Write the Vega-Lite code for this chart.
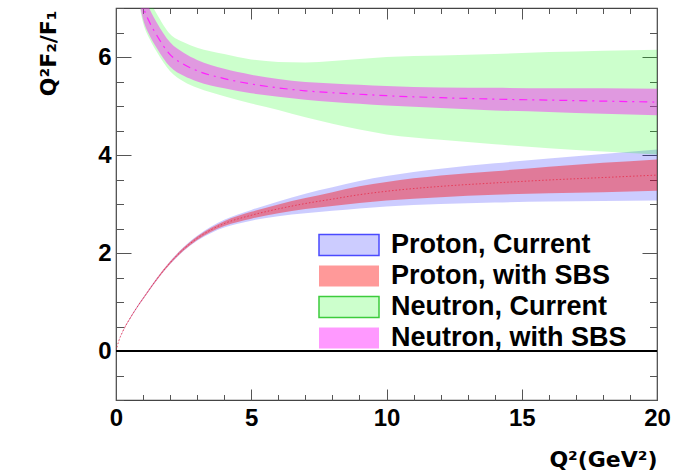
{
  "$schema": "https://vega.github.io/schema/vega-lite/v6.json",
  "autosize": {"type": "none"},
  "padding": {"left": 116, "top": 8, "right": 27, "bottom": 72},
  "width": 541,
  "height": 392,
  "background": "white",
  "config": {
    "view": {"stroke": "#444", "strokeWidth": 1.2},
    "axis": {"domain": false, "grid": false, "labelFont": "Liberation Sans", "labelFontWeight": "bold", "labelFontSize": 24, "labelColor": "black", "tickColor": "#555", "tickWidth": 1, "titleFont": "DejaVu Sans", "titleFontWeight": "bold", "titleFontSize": 22, "titleColor": "black", "labelOverlap": false, "labelBound": false, "labelFlush": false},
    "legend": {"labelFont": "Liberation Sans", "labelFontWeight": "bold", "labelFontSize": 27, "labelColor": "black"}
  },
  "data": {"values": [
    {"s":"Proton, Current","x":0,"lo":0,"hi":0,"c":0},
    {"s":"Proton, Current","x":0.1,"lo":0.195,"hi":0.205,"c":0.2},
    {"s":"Proton, Current","x":0.25,"lo":0.39,"hi":0.41,"c":0.4},
    {"s":"Proton, Current","x":0.5,"lo":0.635,"hi":0.665,"c":0.65},
    {"s":"Proton, Current","x":0.75,"lo":0.852,"hi":0.888,"c":0.87},
    {"s":"Proton, Current","x":1,"lo":1.05,"hi":1.09,"c":1.07},
    {"s":"Proton, Current","x":1.5,"lo":1.435,"hi":1.485,"c":1.46},
    {"s":"Proton, Current","x":2,"lo":1.77,"hi":1.83,"c":1.8},
    {"s":"Proton, Current","x":2.5,"lo":2.04,"hi":2.12,"c":2.08},
    {"s":"Proton, Current","x":3,"lo":2.25,"hi":2.35,"c":2.3},
    {"s":"Proton, Current","x":3.5,"lo":2.405,"hi":2.535,"c":2.47},
    {"s":"Proton, Current","x":4,"lo":2.52,"hi":2.68,"c":2.6},
    {"s":"Proton, Current","x":5,"lo":2.66,"hi":2.88,"c":2.77},
    {"s":"Proton, Current","x":6,"lo":2.75,"hi":3.05,"c":2.9},
    {"s":"Proton, Current","x":7,"lo":2.81,"hi":3.21,"c":3.01},
    {"s":"Proton, Current","x":8,"lo":2.86,"hi":3.34,"c":3.1},
    {"s":"Proton, Current","x":9,"lo":2.91,"hi":3.47,"c":3.19},
    {"s":"Proton, Current","x":10,"lo":2.95,"hi":3.57,"c":3.26},
    {"s":"Proton, Current","x":12,"lo":3.0,"hi":3.72,"c":3.36},
    {"s":"Proton, Current","x":14,"lo":3.03,"hi":3.83,"c":3.43},
    {"s":"Proton, Current","x":16,"lo":3.05,"hi":3.93,"c":3.49},
    {"s":"Proton, Current","x":18,"lo":3.06,"hi":4.02,"c":3.54},
    {"s":"Proton, Current","x":20,"lo":3.07,"hi":4.11,"c":3.59},
    {"s":"Proton, with SBS","x":0,"lo":0,"hi":0,"c":0},
    {"s":"Proton, with SBS","x":0.1,"lo":0.196,"hi":0.204,"c":0.2},
    {"s":"Proton, with SBS","x":0.25,"lo":0.392,"hi":0.408,"c":0.4},
    {"s":"Proton, with SBS","x":0.5,"lo":0.638,"hi":0.662,"c":0.65},
    {"s":"Proton, with SBS","x":0.75,"lo":0.856,"hi":0.884,"c":0.87},
    {"s":"Proton, with SBS","x":1,"lo":1.055,"hi":1.085,"c":1.07},
    {"s":"Proton, with SBS","x":1.5,"lo":1.44,"hi":1.48,"c":1.46},
    {"s":"Proton, with SBS","x":2,"lo":1.775,"hi":1.825,"c":1.8},
    {"s":"Proton, with SBS","x":2.5,"lo":2.05,"hi":2.11,"c":2.08},
    {"s":"Proton, with SBS","x":3,"lo":2.265,"hi":2.335,"c":2.3},
    {"s":"Proton, with SBS","x":3.5,"lo":2.43,"hi":2.51,"c":2.47},
    {"s":"Proton, with SBS","x":4,"lo":2.55,"hi":2.65,"c":2.6},
    {"s":"Proton, with SBS","x":5,"lo":2.7,"hi":2.84,"c":2.77},
    {"s":"Proton, with SBS","x":6,"lo":2.81,"hi":2.99,"c":2.9},
    {"s":"Proton, with SBS","x":7,"lo":2.9,"hi":3.12,"c":3.01},
    {"s":"Proton, with SBS","x":8,"lo":2.96,"hi":3.24,"c":3.1},
    {"s":"Proton, with SBS","x":9,"lo":3.02,"hi":3.36,"c":3.19},
    {"s":"Proton, with SBS","x":10,"lo":3.07,"hi":3.45,"c":3.26},
    {"s":"Proton, with SBS","x":12,"lo":3.14,"hi":3.58,"c":3.36},
    {"s":"Proton, with SBS","x":14,"lo":3.19,"hi":3.67,"c":3.43},
    {"s":"Proton, with SBS","x":16,"lo":3.22,"hi":3.76,"c":3.49},
    {"s":"Proton, with SBS","x":18,"lo":3.24,"hi":3.84,"c":3.54},
    {"s":"Proton, with SBS","x":20,"lo":3.27,"hi":3.91,"c":3.59},
    {"s":"Neutron, Current","x":0.8,"lo":7.25,"hi":8.05,"c":7.65},
    {"s":"Neutron, Current","x":1,"lo":6.7,"hi":7.5,"c":7.1},
    {"s":"Neutron, Current","x":1.25,"lo":6.36,"hi":7.14,"c":6.75},
    {"s":"Neutron, Current","x":1.5,"lo":6.11,"hi":6.89,"c":6.5},
    {"s":"Neutron, Current","x":2,"lo":5.71,"hi":6.47,"c":6.09},
    {"s":"Neutron, Current","x":2.5,"lo":5.5,"hi":6.3,"c":5.9},
    {"s":"Neutron, Current","x":3,"lo":5.37,"hi":6.19,"c":5.78},
    {"s":"Neutron, Current","x":4,"lo":5.2,"hi":6.06,"c":5.63},
    {"s":"Neutron, Current","x":5,"lo":5.05,"hi":5.95,"c":5.5},
    {"s":"Neutron, Current","x":6,"lo":4.92,"hi":5.9,"c":5.41},
    {"s":"Neutron, Current","x":7,"lo":4.77,"hi":5.89,"c":5.33},
    {"s":"Neutron, Current","x":8,"lo":4.64,"hi":5.92,"c":5.28},
    {"s":"Neutron, Current","x":9,"lo":4.52,"hi":5.96,"c":5.24},
    {"s":"Neutron, Current","x":10,"lo":4.42,"hi":6.0,"c":5.21},
    {"s":"Neutron, Current","x":12,"lo":4.31,"hi":6.03,"c":5.17},
    {"s":"Neutron, Current","x":14,"lo":4.22,"hi":6.06,"c":5.14},
    {"s":"Neutron, Current","x":16,"lo":4.14,"hi":6.1,"c":5.12},
    {"s":"Neutron, Current","x":18,"lo":4.07,"hi":6.13,"c":5.1},
    {"s":"Neutron, Current","x":20,"lo":4.01,"hi":6.15,"c":5.08},
    {"s":"Neutron, with SBS","x":0.8,"lo":7.3,"hi":7.9,"c":7.6},
    {"s":"Neutron, with SBS","x":1,"lo":6.77,"hi":7.33,"c":7.05},
    {"s":"Neutron, with SBS","x":1.25,"lo":6.43,"hi":6.97,"c":6.7},
    {"s":"Neutron, with SBS","x":1.5,"lo":6.19,"hi":6.71,"c":6.45},
    {"s":"Neutron, with SBS","x":2,"lo":5.8,"hi":6.3,"c":6.05},
    {"s":"Neutron, with SBS","x":2.5,"lo":5.615,"hi":6.085,"c":5.85},
    {"s":"Neutron, with SBS","x":3,"lo":5.5,"hi":5.94,"c":5.72},
    {"s":"Neutron, with SBS","x":4,"lo":5.36,"hi":5.76,"c":5.56},
    {"s":"Neutron, with SBS","x":5,"lo":5.26,"hi":5.64,"c":5.45},
    {"s":"Neutron, with SBS","x":6,"lo":5.19,"hi":5.55,"c":5.37},
    {"s":"Neutron, with SBS","x":7,"lo":5.13,"hi":5.49,"c":5.31},
    {"s":"Neutron, with SBS","x":8,"lo":5.08,"hi":5.46,"c":5.27},
    {"s":"Neutron, with SBS","x":9,"lo":5.045,"hi":5.435,"c":5.24},
    {"s":"Neutron, with SBS","x":10,"lo":5.01,"hi":5.41,"c":5.21},
    {"s":"Neutron, with SBS","x":12,"lo":4.96,"hi":5.38,"c":5.17},
    {"s":"Neutron, with SBS","x":14,"lo":4.91,"hi":5.37,"c":5.14},
    {"s":"Neutron, with SBS","x":16,"lo":4.88,"hi":5.36,"c":5.12},
    {"s":"Neutron, with SBS","x":18,"lo":4.84,"hi":5.36,"c":5.1},
    {"s":"Neutron, with SBS","x":20,"lo":4.81,"hi":5.35,"c":5.08}
  ]},
  "resolve": {"axis": {"x": "independent", "y": "independent"}},
  "layer": [
    {
      "transform": [{"filter": "datum.s === 'Proton, Current'"}],
      "mark": {"type": "area", "opacity": 1, "clip": true, "interpolate": "monotone"},
      "encoding": {
        "x": {"field": "x", "type": "quantitative", "scale": {"domain": [0, 20], "nice": false, "zero": false},
          "axis": {"orient": "bottom", "values": [0,1,2,3,4,5,6,7,8,9,10,11,12,13,14,15,16,17,18,19,20],
            "tickSize": {"condition": {"test": "datum.value % 5 === 0", "value": -11}, "value": -5.5},
            "labelExpr": "datum.value % 5 === 0 ? '' + datum.value : ''", "labelPadding": 17,
            "title": "Q²(GeV²)", "titleX": 541, "titleY": 66, "titleAlign": "right", "titleBaseline": "alphabetic", "titleAngle": 0}},
        "y": {"field": "lo", "type": "quantitative", "scale": {"domain": [-1, 7], "nice": false, "zero": false},
          "axis": {"orient": "left", "values": [-1,-0.5,0,0.5,1,1.5,2,2.5,3,3.5,4,4.5,5,5.5,6,6.5,7],
            "tickSize": {"condition": {"test": "datum.value % 2 === 0", "value": -15}, "value": -7.5},
            "labelExpr": "datum.value % 2 === 0 ? '' + datum.value : ''", "labelPadding": 20,
            "title": "Q²F₂/F₁", "titleX": -61, "titleY": 2, "titleAngle": -90, "titleAlign": "right", "titleBaseline": "alphabetic"}},
        "y2": {"field": "hi"},
        "color": {"field": "s", "type": "nominal",
          "scale": {"domain": ["Proton, Current", "Proton, with SBS", "Neutron, Current", "Neutron, with SBS"],
                    "range": ["rgba(0,0,255,0.2)", "rgba(255,0,0,0.4)", "rgba(0,255,0,0.2)", "rgba(255,0,255,0.4)"]},
          "legend": {"title": null, "orient": "none", "legendX": 217, "legendY": 221, "padding": 0,
            "symbolType": "M-2,-0.7H2V0.7H-2Z", "symbolSize": 900, "symbolOpacity": 1,
            "labelOffset": 26, "rowPadding": 1, "labelLimit": 0,
            "encode": {"symbols": {"update": {
              "stroke": {"signal": "datum.value === 'Proton, Current' ? '#4a4aff' : datum.value === 'Neutron, Current' ? '#3ccc3c' : 'transparent'"},
              "strokeWidth": {"value": 1.5}}}}}}
      }
    },
    {
      "transform": [{"filter": "datum.s === 'Proton, with SBS'"}],
      "mark": {"type": "area", "opacity": 1, "clip": true, "interpolate": "monotone"},
      "encoding": {
        "x": {"field": "x", "type": "quantitative", "scale": {"domain": [0, 20], "nice": false, "zero": false}, "axis": null},
        "y": {"field": "lo", "type": "quantitative", "scale": {"domain": [-1, 7], "nice": false, "zero": false}, "axis": null},
        "y2": {"field": "hi"},
        "color": {"field": "s", "type": "nominal"}
      }
    },
    {
      "transform": [{"filter": "datum.s === 'Neutron, Current'"}],
      "mark": {"type": "area", "opacity": 1, "clip": true, "interpolate": "monotone"},
      "encoding": {
        "x": {"field": "x", "type": "quantitative", "scale": {"domain": [0, 20], "nice": false, "zero": false}, "axis": null},
        "y": {"field": "lo", "type": "quantitative", "scale": {"domain": [-1, 7], "nice": false, "zero": false}, "axis": null},
        "y2": {"field": "hi"},
        "color": {"field": "s", "type": "nominal"}
      }
    },
    {
      "transform": [{"filter": "datum.s === 'Neutron, with SBS'"}],
      "mark": {"type": "area", "opacity": 1, "clip": true, "interpolate": "monotone"},
      "encoding": {
        "x": {"field": "x", "type": "quantitative", "scale": {"domain": [0, 20], "nice": false, "zero": false}, "axis": null},
        "y": {"field": "lo", "type": "quantitative", "scale": {"domain": [-1, 7], "nice": false, "zero": false}, "axis": null},
        "y2": {"field": "hi"},
        "color": {"field": "s", "type": "nominal"}
      }
    },
    {
      "transform": [{"filter": "datum.s === 'Proton, with SBS'"}],
      "mark": {"type": "line", "color": "#e8203c", "strokeWidth": 1, "strokeDash": [1.5, 2], "opacity": 0.7, "clip": true, "interpolate": "monotone"},
      "encoding": {
        "x": {"field": "x", "type": "quantitative", "scale": {"domain": [0, 20], "nice": false, "zero": false},
          "axis": {"orient": "top", "values": [0,1,2,3,4,5,6,7,8,9,10,11,12,13,14,15,16,17,18,19,20],
            "tickSize": {"condition": {"test": "datum.value % 5 === 0", "value": -11}, "value": -5.5},
            "labels": false, "title": null}},
        "y": {"field": "c", "type": "quantitative", "scale": {"domain": [-1, 7], "nice": false, "zero": false},
          "axis": {"orient": "right", "values": [-1,-0.5,0,0.5,1,1.5,2,2.5,3,3.5,4,4.5,5,5.5,6,6.5,7],
            "tickSize": {"condition": {"test": "datum.value % 2 === 0", "value": -15}, "value": -7.5},
            "labels": false, "title": null}}
      }
    },
    {
      "transform": [{"filter": "datum.s === 'Neutron, with SBS'"}],
      "mark": {"type": "line", "color": "#ff20ff", "strokeWidth": 1.2, "strokeDash": [8, 5, 2, 5], "clip": true, "interpolate": "monotone"},
      "encoding": {
        "x": {"field": "x", "type": "quantitative", "scale": {"domain": [0, 20], "nice": false, "zero": false}, "axis": null},
        "y": {"field": "c", "type": "quantitative", "scale": {"domain": [-1, 7], "nice": false, "zero": false}, "axis": null}
      }
    },
    {
      "mark": {"type": "rule", "color": "black", "strokeWidth": 1},
      "encoding": {
        "y": {"datum": 0, "type": "quantitative", "scale": {"domain": [-1, 7], "nice": false, "zero": false}, "axis": null}
      }
    }
  ]
}
